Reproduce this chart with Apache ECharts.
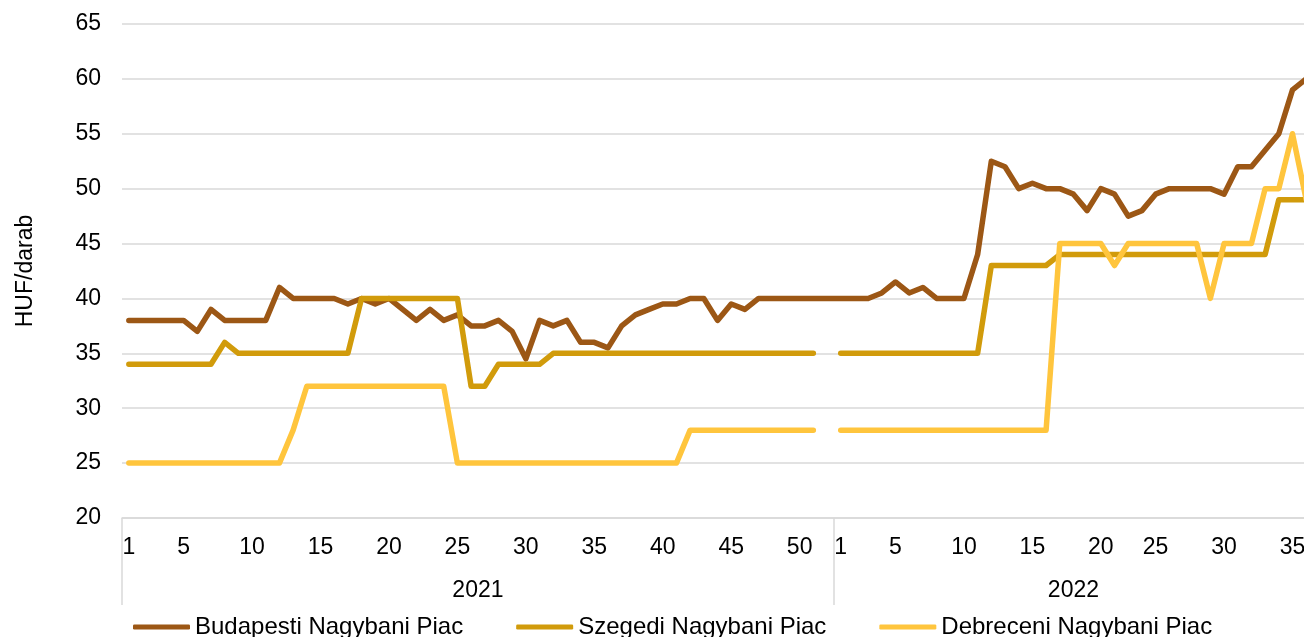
<!DOCTYPE html>
<html lang="hu">
<head>
  <meta charset="UTF-8">
  <title>Nagybani piaci árak</title>
  <script src="https://cdn.jsdelivr.net/npm/echarts@6/dist/echarts.min.js"></script>
  <style>
    html, body { margin: 0; padding: 0; overflow: hidden; background: #fff; }
    #chart { width: 1330px; height: 637px; }
  </style>
</head>
<body>
  <div id="chart"></div>
  <script>
    // hetek (a 2022-es sorból a 22. hét hiányzik)
    const years = ['2021', '2022']
    const weeks2021 = [1, 2, 3, 4, 5, 6, 7, 8, 9, 10, 11, 12, 13, 14, 15, 16, 17, 18, 19, 20,
      21, 22, 23, 24, 25, 26, 27, 28, 29, 30, 31, 32, 33, 34, 35, 36, 37, 38, 39, 40,
      41, 42, 43, 44, 45, 46, 47, 48, 49, 50, 51, 52]
    const weeks2022 = [1, 2, 3, 4, 5, 6, 7, 8, 9, 10, 11, 12, 13, 14, 15, 16, 17, 18, 19, 20,
      21, 23, 24, 25, 26, 27, 28, 29, 30, 31, 32, 33, 34, 35, 36]

    const budapest2021 = [38, 38, 38, 38, 38, 37, 39, 38, 38, 38, 38, 41, 40, 40, 40, 40,
      39.5, 40, 39.5, 40, 39, 38, 39, 38, 38.5, 37.5, 37.5, 38, 37, 34.5, 38, 37.5, 38, 36, 36,
      35.5, 37.5, 38.5, 39, 39.5, 39.5, 40, 40, 38, 39.5, 39, 40, 40, 40, 40, 40, 40]
    const budapest2022 = [40, 40, 40, 40.5, 41.5, 40.5, 41, 40, 40, 40, 44, 52.5, 52, 50, 50.5,
      50, 50, 49.5, 48, 50, 49.5, 47.5, 48, 49.5, 50, 50, 50, 50, 49.5, 52, 52, 53.5, 55, 59, 60]

    const szeged2021 = [34, 34, 34, 34, 34, 34, 34, 36, 35, 35, 35, 35, 35, 35, 35, 35, 35,
      40, 40, 40, 40, 40, 40, 40, 40, 32, 32, 34, 34, 34, 34, 35, 35, 35, 35, 35, 35, 35, 35,
      35, 35, 35, 35, 35, 35, 35, 35, 35, 35, 35, 35, null]
    const szeged2022 = [35, 35, 35, 35, 35, 35, 35, 35, 35, 35, 35, 43, 43, 43, 43, 43,
      44, 44, 44, 44, 44, 44, 44, 44, 44, 44, 44, 44, 44, 44, 44, 44, 49, 49, 49]

    const debrecen2021 = [25, 25, 25, 25, 25, 25, 25, 25, 25, 25, 25, 25, 28, 32, 32, 32, 32,
      32, 32, 32, 32, 32, 32, 32, 25, 25, 25, 25, 25, 25, 25, 25, 25, 25, 25, 25, 25, 25, 25,
      25, 25, 28, 28, 28, 28, 28, 28, 28, 28, 28, 28, null]
    const debrecen2022 = [28, 28, 28, 28, 28, 28, 28, 28, 28, 28, 28, 28, 28, 28, 28, 28,
      45, 45, 45, 45, 43, 45, 45, 45, 45, 45, 45, 40, 45, 45, 45, 50, 50, 55, 49]

    const seriesNames = ['Budapesti Nagybani Piac', 'Szegedi Nagybani Piac', 'Debreceni Nagybani Piac']
    const colors = ['#9c5715', '#d19b0b', '#ffc53d']

    const yMin = 20, yMax = 65, yStep = 5

    // kategóriák: "év|hét"
    const groups = [weeks2021, weeks2022]
    const categories = []
    const groupStart = []
    groups.forEach((weeks, gi) => {
      groupStart.push(categories.length)
      weeks.forEach(w => categories.push(years[gi] + '|' + w))
    })
    // évcímke a csoport közepén
    const yearLabelIdx = {}
    groups.forEach((weeks, gi) => {
      const mid = groupStart[gi] + Math.floor((weeks.length - 1) / 2)
      yearLabelIdx[mid] = { year: years[gi], even: weeks.length % 2 === 0 }
    })

    const chart = echarts.init(document.getElementById('chart'))
    const font = 'Liberation Sans, Arial, sans-serif'
    const gray = '#d9d9d9'
    const band = 13.69

    const option = {
      animation: false,
      textStyle: { fontFamily: font },
      grid: { left: 122, top: 24, width: categories.length * band, height: 494 },
      legend: {
        data: seriesNames,
        left: 128,
        top: 610,
        icon: 'roundRect',
        itemWidth: 57,
        itemHeight: 5,
        itemGap: 53,
        textStyle: { fontSize: 24, color: '#000', fontFamily: font }
      },
      xAxis: [
        {
          type: 'category',
          data: categories,
          boundaryGap: true,
          axisLine: { lineStyle: { color: gray, width: 1.5 } },
          axisTick: { show: false },
          axisLabel: {
            interval: (i, v) => {
              const w = +v.split('|')[1]
              return w === 1 || w % 5 === 0
            },
            formatter: v => v.split('|')[1],
            fontSize: 23,
            color: '#000',
            margin: 18,
            fontFamily: font
          }
        },
        {
          type: 'category',
          data: categories,
          position: 'bottom',
          boundaryGap: true,
          axisLine: { show: false },
          axisTick: {
            show: true,
            length: 87,
            interval: i => groupStart.includes(i),
            lineStyle: { color: gray, width: 1.5 }
          },
          axisLabel: {
            interval: i => yearLabelIdx[i] !== undefined,
            formatter: (v, i) => {
              const it = yearLabelIdx[i]
              if (!it) return ''
              return it.even ? '{e|' + it.year + '}' : it.year
            },
            rich: {
              e: { padding: [0, 0, 0, band], fontSize: 23, color: '#000', fontFamily: font }
            },
            fontSize: 23,
            color: '#000',
            margin: 61,
            fontFamily: font
          }
        }
      ],
      yAxis: {
        type: 'value',
        min: yMin,
        max: yMax,
        interval: yStep,
        name: 'HUF/darab',
        nameLocation: 'middle',
        nameGap: 85,
        nameRotate: 90,
        nameTextStyle: { fontSize: 23, color: '#000', fontFamily: font },
        axisLine: { show: false },
        axisTick: { show: false },
        axisLabel: { fontSize: 23, color: '#000', margin: 21, fontFamily: font },
        splitLine: { lineStyle: { color: gray, width: 1.5 } }
      },
      series: [
        budapest2021.concat(budapest2022),
        szeged2021.concat(szeged2022),
        debrecen2021.concat(debrecen2022)
      ].map((data, i) => ({
        name: seriesNames[i],
        type: 'line',
        data: data,
        xAxisIndex: 0,
        symbol: 'none',
        connectNulls: false,
        color: colors[i],
        lineStyle: { width: 5.5, color: colors[i], cap: 'round', join: 'round' }
      }))
    }
    chart.setOption(option)
  </script>
</body>
</html>
